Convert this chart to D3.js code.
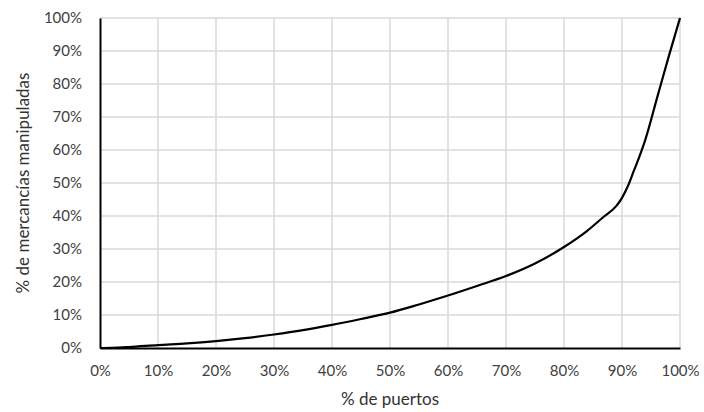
<!DOCTYPE html>
<html><head><meta charset="utf-8">
<script src="https://cdn.jsdelivr.net/npm/d3@7"></script>
<style>
html,body{margin:0;padding:0;background:#fff;}
text{font-family:Lato,"Open Sans",sans-serif;fill:#404040;}
</style></head>
<body><svg id="c" width="704" height="412"></svg>
<script>
const portsPct = [0,2,5,10,15,20,25,30,35,40,45,50,55,60,65,70,75,80,84,87,89,90,91,92,93,94,96,98,100];
const goodsPct = [0,0.05,0.3,0.9,1.4,2.1,3.0,4.1,5.4,7.0,8.8,10.7,13.2,15.9,18.8,21.8,25.6,30.6,35.5,40,43,45.5,49,53.5,58,63,75.5,88,100];
const xTicks = [0,10,20,30,40,50,60,70,80,90,100];
const yTicks = [0,10,20,30,40,50,60,70,80,90,100];
const xTitle = "% de puertos";
const yTitle = "% de mercancías manipuladas";

const svg = d3.select("#c");
const L=100,R=680,T=18,B=348;
const x = d3.scaleLinear().domain([0,100]).range([L,R]);
const y = d3.scaleLinear().domain([0,100]).range([B,T]);

svg.append("g").selectAll("line").data(xTicks.slice(1)).join("line")
  .attr("x1",d=>x(d)).attr("x2",d=>x(d)).attr("y1",T).attr("y2",B)
  .attr("stroke","#d9d9d9").attr("stroke-width",1.5);
svg.append("g").selectAll("line").data(yTicks.slice(1)).join("line")
  .attr("x1",L).attr("x2",R).attr("y1",d=>y(d)).attr("y2",d=>y(d))
  .attr("stroke","#d9d9d9").attr("stroke-width",1.5);

const xa = svg.append("g").attr("transform",`translate(0,${B})`)
  .call(d3.axisBottom(x).tickValues(xTicks).tickFormat(d=>d+"%").tickSize(0).tickPadding(17));
xa.select(".domain").attr("stroke","#000").attr("stroke-width",2);
const ya = svg.append("g").attr("transform",`translate(${L},0)`)
  .call(d3.axisLeft(y).tickValues(yTicks).tickFormat(d=>d+"%").tickSize(0).tickPadding(18));
ya.select(".domain").attr("stroke","#000").attr("stroke-width",2);
svg.selectAll(".tick text").attr("font-size",15).style("font-family","Lato").attr("fill","#333");

const line = d3.line().x((d,i)=>x(portsPct[i])).y(d=>y(d)).curve(d3.curveMonotoneX);
svg.append("path").datum(goodsPct).attr("d",line)
  .attr("fill","none").attr("stroke","#000").attr("stroke-width",2.2);

svg.append("text").attr("x",(L+R)/2).attr("y",405).attr("text-anchor","middle")
  .attr("font-size",17).attr("fill","#333").style("fill","#333").text(xTitle);
svg.append("text").attr("transform",`translate(29,${(T+B)/2}) rotate(-90)`)
  .attr("text-anchor","middle").attr("font-size",17).style("fill","#333").text(yTitle);
</script></body></html>
